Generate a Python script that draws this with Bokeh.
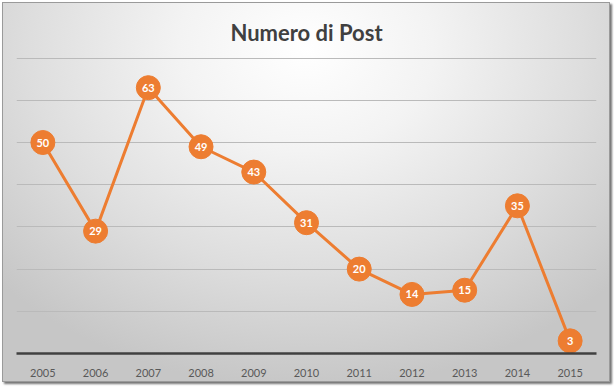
from bokeh.plotting import figure
from bokeh.models import ColumnDataSource, Range1d, FixedTicker, LabelSet
from bokeh.core.properties import value
from bokeh.embed import file_html
from bokeh.resources import INLINE

title_text = "Numero di Post"
years = ["2005", "2006", "2007", "2008", "2009", "2010", "2011", "2012", "2013", "2014", "2015"]
posts = [50, 29, 63, 49, 43, 31, 20, 14, 15, 35, 3]
labels = [str(v) for v in posts]
grid_ticks = [10, 20, 30, 40, 50, 60, 70]

src = ColumnDataSource(dict(x=years, y=posts, t=labels))

p = figure(x_range=years, y_range=Range1d(0, 70.15), width=608, height=380,
           output_backend="svg", toolbar_location=None,
           min_border_left=13, min_border_right=15, min_border_top=54, min_border_bottom=30)

p.title.text = title_text
p.title.align = "center"
p.title.text_font = "Lato"
p.title.text_font_style = "bold"
p.title.text_font_size = "22px"
p.title.text_color = "#404040"
p.title.standoff = 24

p.background_fill_alpha = 0
p.border_fill_alpha = 0
p.outline_line_color = None
p.styles = {
    "background": "radial-gradient(ellipse 70% 90% at 50% 12%, #ffffff 0%, #f3f3f3 30%, #dedede 65%, #c6c6c6 100%)",
    "border": "1px solid #9a9a9a",
    "box-shadow": "2px 2px 2px rgba(0,0,0,0.55)",
    "margin-left": "2px",
    "margin-top": "2px",
}

p.yaxis.visible = False
p.yaxis.ticker = FixedTicker(ticks=grid_ticks)
p.ygrid.ticker = FixedTicker(ticks=grid_ticks)
p.ygrid.grid_line_color = "#bababa"
p.ygrid.grid_line_width = 1
p.xgrid.grid_line_color = None

p.xaxis.axis_line_color = "#404040"
p.xaxis.axis_line_width = 2.5
p.xaxis.major_tick_line_color = None
p.xaxis.minor_tick_line_color = None
p.xaxis.major_label_text_font = "Lato"
p.xaxis.major_label_text_font_size = "11px"
p.xaxis.major_label_text_color = "#595959"
p.xaxis.major_label_standoff = 9

p.line("x", "y", source=src, line_color="#ED7D31", line_width=3)
p.scatter("x", "y", source=src, size=24, fill_color="#ED7D31", line_color="#ED7D31")

ls = LabelSet(x="x", y="y", text="t", source=src, text_align="center", text_baseline="middle",
              text_color="white", text_font=value("Lato"), text_font_style="bold",
              text_font_size="11px")
p.add_layout(ls)

open("out.html", "w").write(file_html(p, INLINE))
